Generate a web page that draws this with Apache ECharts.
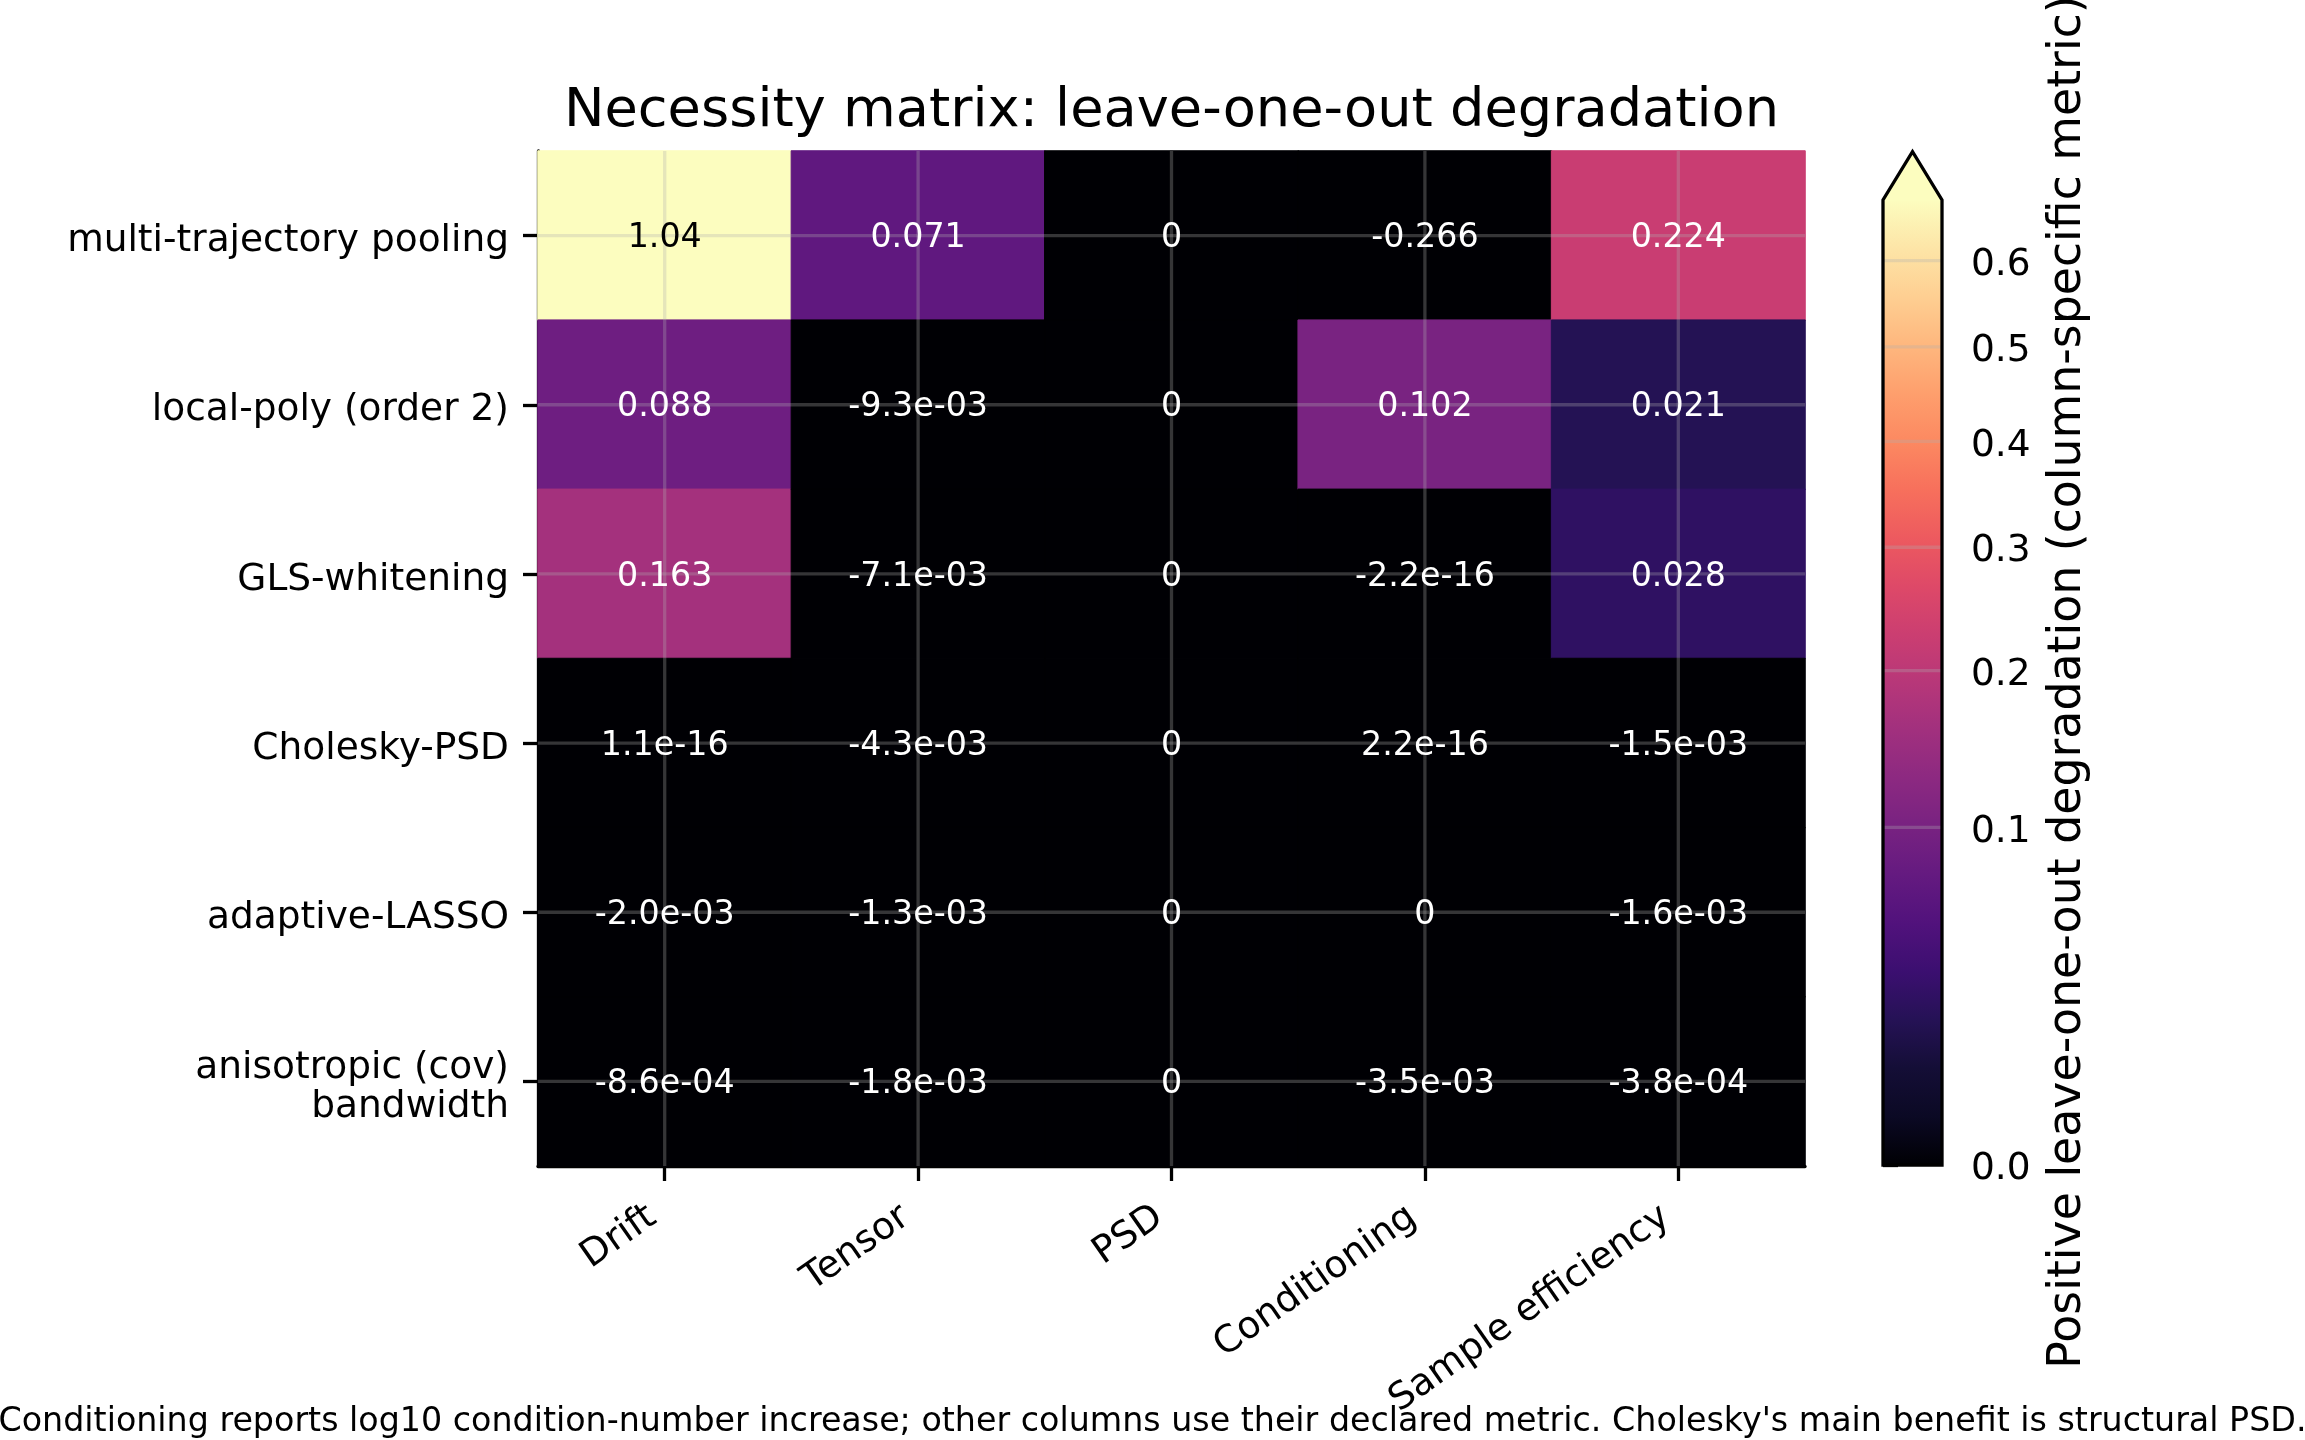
<!DOCTYPE html>
<html><head><meta charset="utf-8">
<script src="https://cdn.jsdelivr.net/npm/echarts@6/dist/echarts.min.js"></script>
<style>html,body{margin:0;padding:0;background:#fff}#c{width:2305px;height:1440px}</style>
</head><body><div id="c"></div>
<script>
// ---- data ----
const components = ['multi-trajectory pooling', 'local-poly (order 2)', 'GLS-whitening', 'Cholesky-PSD', 'adaptive-LASSO', 'anisotropic (cov)\nbandwidth'];
const metrics = ['Drift', 'Tensor', 'PSD', 'Conditioning', 'Sample efficiency'];
const driftValues = [1.04, 0.088, 0.163, 1.1e-16, -2.0e-3, -8.6e-4];
const tensorValues = [0.071, -9.3e-3, -7.1e-3, -4.3e-3, -1.3e-3, -1.8e-3];
const psdValues = [0, 0, 0, 0, 0, 0];
const conditioningValues = [-0.266, 0.102, -2.2e-16, 2.2e-16, 0, -3.5e-3];
const sampleEfficiencyValues = [0.224, 0.021, 0.028, -1.5e-3, -1.6e-3, -3.8e-4];
const colorbarTicks = [0, 0.1, 0.2, 0.3, 0.4, 0.5, 0.6];
const normGamma = 0.55;
const normVmax = 0.675;
const titleText = 'Necessity matrix: leave-one-out degradation';
const colorbarLabel = 'Positive leave-one-out degradation (column-specific metric)';
const footnote = "Conditioning reports log10 condition-number increase; other columns use their declared metric. Cholesky's main benefit is structural PSD.";

// magma colormap stops
const magmaStops = [
  [0.00, '#000004'], [0.05, '#0b0924'], [0.10, '#140e36'], [0.15, '#251255'],
  [0.20, '#3b0f70'], [0.25, '#51127c'], [0.30, '#641a80'], [0.35, '#782281'],
  [0.40, '#8c2981'], [0.45, '#a1307e'], [0.50, '#b73779'], [0.55, '#cb3e71'],
  [0.60, '#de4968'], [0.65, '#ed5a5f'], [0.70, '#f7705c'], [0.75, '#fc8961'],
  [0.80, '#fe9f6d'], [0.85, '#feb77e'], [0.90, '#fecf92'], [0.95, '#fde5a7'],
  [1.00, '#fcfdbf']
];
const overColor = '#fcfdbf';

function hex2rgb(h){ return [parseInt(h.slice(1,3),16), parseInt(h.slice(3,5),16), parseInt(h.slice(5,7),16)]; }
function magma(t){
  t = Math.max(0, Math.min(1, t));
  for (let i = 1; i < magmaStops.length; i++) {
    if (t <= magmaStops[i][0]) {
      const [t0, c0] = magmaStops[i-1], [t1, c1] = magmaStops[i];
      const f = (t - t0) / (t1 - t0);
      const a = hex2rgb(c0), b = hex2rgb(c1);
      return 'rgb(' + a.map((v, k) => Math.round(v + (b[k]-v)*f)).join(',') + ')';
    }
  }
  return magmaStops[magmaStops.length-1][1];
}
function norm(v){ if (v <= 0) return 0; return Math.pow(v / normVmax, normGamma); }
function cellColor(v){ return v > normVmax ? overColor : magma(norm(v)); }
function fmt(v){
  if (v === 0) return '0';
  if (Math.abs(v) < 0.01) {
    let s = v.toExponential(1);
    return s.replace(/e([+-])(\d)$/, 'e$10$2');
  }
  return String(Number(v.toPrecision(3)));
}

const columns = [driftValues, tensorValues, psdValues, conditioningValues, sampleEfficiencyValues];
const heatData = [], labelData = [];
columns.forEach((col, ci) => col.forEach((v, ri) => {
  const c = cellColor(v);
  heatData.push({ value: [ci, ri, v], itemStyle: { color: c, borderColor: c, borderWidth: 1 } });
  const bright = v > normVmax || norm(v) > 0.6;
  labelData.push({ value: [ci, ri, v], label: { color: bright ? '#000' : '#fff' } });
}));

const FONT = 'DejaVu Sans';
const gridColor = 'rgba(176,176,176,0.3)';
const chart = echarts.init(document.getElementById('c'), null, { renderer: 'canvas' });

function yLabelRich(s){
  const lines = s.split('\n');
  if (lines.length === 1) return '{one|' + s + '}';
  return lines.map((l, i) => (i === 0 ? '{first|' : '{rest|') + l + '}').join('\n');
}

chart.setOption({
  animation: false,
  backgroundColor: '#fff',
  textStyle: { fontFamily: FONT },
  grid: [
    { left: 538, top: 151, width: 1267, height: 1015 },
    { left: 1883, top: 200, width: 59, height: 965 }
  ],
  xAxis: [
    { type: 'category', gridIndex: 0, data: metrics, position: 'bottom',
      axisLine: { show: true, lineStyle: { color: '#000', width: 3.3 } },
      axisTick: { show: true, alignWithLabel: true, length: 15, lineStyle: { color: '#000', width: 3.3 } },
      axisLabel: { rotate: 35, fontSize: 37.5, color: '#000', fontFamily: FONT, margin: 39, padding: [0, 15, 0, 0], interval: 0 },
      splitLine: { show: false } },
    { type: 'value', gridIndex: 1, min: 0, max: 1, show: false }
  ],
  yAxis: [
    { type: 'category', gridIndex: 0, data: components, inverse: true,
      axisLine: { show: true, lineStyle: { color: '#000', width: 3.3 } },
      axisTick: { show: true, alignWithLabel: true, length: 15, lineStyle: { color: '#000', width: 3.3 } },
      axisLabel: { fontSize: 37.5, color: '#000', fontFamily: FONT, margin: 29, interval: 0, align: 'right',
        formatter: yLabelRich,
        rich: {
          one: { fontSize: 37.5, fontFamily: FONT, color: '#000', lineHeight: 43, padding: [12, 0, 0, 0] },
          first: { fontSize: 37.5, fontFamily: FONT, color: '#000', lineHeight: 41, padding: [14, 0, 0, 0] },
          rest: { fontSize: 37.5, fontFamily: FONT, color: '#000', lineHeight: 41, padding: [10, 0, 0, 0] }
        } },
      splitLine: { show: false } },
    { type: 'value', gridIndex: 1, min: 0, max: 1, position: 'right',
      axisLine: { show: false },
      axisTick: { show: true, length: 15, lineStyle: { color: '#000', width: 3.3 }, customValues: colorbarTicks.map(norm) },
      axisLabel: { show: true, fontSize: 37.5, color: '#000', fontFamily: FONT, margin: 29,
        customValues: colorbarTicks.map(norm),
        formatter: (t) => '{a|' + (normVmax * Math.pow(t, 1 / normGamma)).toFixed(1) + '}',
        rich: { a: { fontSize: 37.5, fontFamily: FONT, color: '#000', lineHeight: 43, padding: [9, 0, 0, 0] } } },
      splitLine: { show: false } }
  ],
  series: [
    { type: 'heatmap', xAxisIndex: 0, yAxisIndex: 0, data: heatData, z: 1, silent: true,
      emphasis: { disabled: true } },
    { type: 'custom', xAxisIndex: 0, yAxisIndex: 0, z: 2, silent: true, data: [[0, 0]],
      renderItem: function (params, api) {
        const cs = params.coordSys;
        const children = [];
        metrics.forEach((m, i) => {
          const x = api.coord([i, 0])[0];
          children.push({ type: 'line', shape: { x1: x, y1: cs.y, x2: x, y2: cs.y + cs.height },
            style: { stroke: gridColor, lineWidth: 3.3 } });
        });
        components.forEach((c, j) => {
          const y = api.coord([0, j])[1];
          children.push({ type: 'line', shape: { x1: cs.x, y1: y, x2: cs.x + cs.width, y2: y },
            style: { stroke: gridColor, lineWidth: 3.3 } });
        });
        return { type: 'group', children };
      } },
    { type: 'scatter', xAxisIndex: 0, yAxisIndex: 0, z: 3, silent: true, data: labelData,
      symbolSize: 1, itemStyle: { color: 'rgba(0,0,0,0)', opacity: 1 },
      label: { show: true, position: 'inside', fontSize: 33.3, fontFamily: FONT, offset: [0, 3],
        textBorderWidth: 0, textShadowBlur: 0, opacity: 1,
        formatter: (p) => fmt(p.value[2]) },
      emphasis: { disabled: true } },
    { type: 'custom', xAxisIndex: 1, yAxisIndex: 1, z: 2, silent: true, data: [[0, 0]],
      renderItem: function (params, api) {
        const bl = api.coord([0, 0]), tr = api.coord([1, 1]);
        const x0 = bl[0], x1 = tr[0], yb = bl[1], yt = tr[1];
        const h = yb - yt, arrow = 0.05 * h, xm = (x0 + x1) / 2;
        const stops = magmaStops.map(s => ({ offset: s[0], color: s[1] }));
        const children = [
          { type: 'rect', shape: { x: x0, y: yt, width: x1 - x0, height: h },
            style: { fill: new echarts.graphic.LinearGradient(0, 1, 0, 0, stops) } },
          { type: 'polygon', shape: { points: [[x0, yt + 0.5], [xm, yt - arrow], [x1, yt + 0.5]] },
            style: { fill: overColor } }
        ];
        colorbarTicks.forEach(v => {
          const y = api.coord([0, norm(v)])[1];
          if (v > 0) children.push({ type: 'line', shape: { x1: x0, y1: y, x2: x1, y2: y },
            style: { stroke: gridColor, lineWidth: 3.3 } });
        });
        children.push({ type: 'polygon', shape: { points: [[x0, yb], [x0, yt], [xm, yt - arrow], [x1, yt], [x1, yb]] },
          style: { fill: null, stroke: '#000', lineWidth: 3.3, lineJoin: 'miter' } });
        return { type: 'group', children };
      } }
  ],
  graphic: [
    { type: 'text', x: 1171.5, y: 112, style: { text: titleText, fontSize: 54.2, fontFamily: FONT, fill: '#000', align: 'center', verticalAlign: 'middle' } },
    { type: 'text', x: 2068, y: 682, rotation: Math.PI / 2, style: { text: colorbarLabel, fontSize: 45.8, fontFamily: FONT, fill: '#000', align: 'center', verticalAlign: 'middle' } },
    { type: 'text', x: 1152.5, y: 1422, style: { text: footnote, fontSize: 33.3, fontFamily: FONT, fill: '#000', align: 'center', verticalAlign: 'middle' } }
  ]
});
</script></body></html>
